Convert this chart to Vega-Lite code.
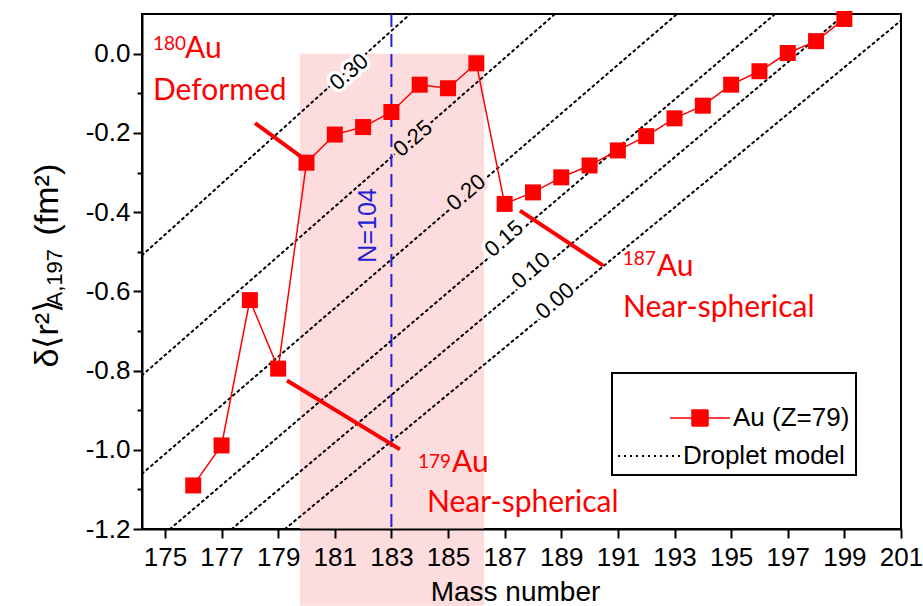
{
  "$schema": "https://vega.github.io/schema/vega-lite/v6.json",
  "width": 759,
  "height": 515,
  "autosize": {"type": "none"},
  "padding": {"left": 142, "top": 14, "right": 22, "bottom": 77},
  "background": "white",
  "config": {
    "view": {"stroke": "black", "strokeWidth": 2},
    "axis": {
      "domainColor": "black", "domainWidth": 2, "tickColor": "black", "tickWidth": 2,
      "labelFont": "Liberation Sans", "labelFontSize": 26, "labelColor": "black",
      "titleFont": "Liberation Sans", "titleFontWeight": "normal", "titleColor": "black",
      "grid": false, "labelOverlap": false, "labelFlush": false
    }
  },
  "datasets": {
    "band": [{"A1": 179.77, "A2": 186.27, "d1": 0.0, "d2": -1.394}],
    "au": [
      {"A": 176, "d": -1.090}, {"A": 177, "d": -0.989}, {"A": 178, "d": -0.622}, {"A": 179, "d": -0.795},
      {"A": 180, "d": -0.275}, {"A": 181, "d": -0.204}, {"A": 182, "d": -0.185}, {"A": 183, "d": -0.147},
      {"A": 184, "d": -0.078}, {"A": 185, "d": -0.087}, {"A": 186, "d": -0.024}, {"A": 187, "d": -0.379},
      {"A": 188, "d": -0.350}, {"A": 189, "d": -0.312}, {"A": 190, "d": -0.282}, {"A": 191, "d": -0.244},
      {"A": 192, "d": -0.208}, {"A": 193, "d": -0.163}, {"A": 194, "d": -0.131}, {"A": 195, "d": -0.078},
      {"A": 196, "d": -0.044}, {"A": 197, "d": 0.002}, {"A": 198, "d": 0.032}, {"A": 199, "d": 0.088}
    ],
    "droplet": [
      {"beta": "0.30", "A": 174.19, "d": -0.509}, {"beta": "0.30", "A": 183.66, "d": 0.1005},
      {"beta": "0.25", "A": 174.19, "d": -0.812}, {"beta": "0.25", "A": 188.78, "d": 0.1005},
      {"beta": "0.20", "A": 174.19, "d": -1.0605}, {"beta": "0.20", "A": 193.09, "d": 0.1005},
      {"beta": "0.15", "A": 175.18, "d": -1.2}, {"beta": "0.15", "A": 196.55, "d": 0.1005},
      {"beta": "0.10", "A": 177.36, "d": -1.2}, {"beta": "0.10", "A": 199.03, "d": 0.1005},
      {"beta": "0.00", "A": 179.24, "d": -1.2}, {"beta": "0.00", "A": 201.0, "d": 0.084}
    ],
    "dlabels": [
      {"beta": "0.30", "A": 181.50, "d": -0.046},
      {"beta": "0.25", "A": 183.76, "d": -0.214},
      {"beta": "0.20", "A": 185.64, "d": -0.350},
      {"beta": "0.15", "A": 186.98, "d": -0.467},
      {"beta": "0.10", "A": 187.93, "d": -0.547},
      {"beta": "0.00", "A": 188.78, "d": -0.624}
    ],
    "nlabel": [{"t": "N=104", "A": 182.17, "d": -0.4335}],
    "pointers": [
      {"A": 178.18, "d": -0.175, "A2": 179.95, "d2": -0.267},
      {"A": 187.54, "d": -0.396, "A2": 190.48, "d2": -0.535},
      {"A": 179.31, "d": -0.825, "A2": 183.30, "d2": -0.999}
    ],
    "notes": [
      {"t": "Au", "A": 175.709, "d": -0.0114, "role": "main"},
      {"t": "Deformed", "A": 174.579, "d": -0.1167, "role": "main"},
      {"t": "Au", "A": 185.140, "d": -1.0560, "role": "main"},
      {"t": "Near-spherical", "A": 184.257, "d": -1.1563, "role": "main"},
      {"t": "Au", "A": 192.371, "d": -0.5611, "role": "main"},
      {"t": "Near-spherical", "A": 191.181, "d": -0.6646, "role": "main"},
      {"t": "180", "A": 174.579, "d": 0.0096, "role": "sup"},
      {"t": "179", "A": 183.939, "d": -1.0459, "role": "sup"},
      {"t": "187", "A": 191.170, "d": -0.5333, "role": "sup"}
    ]
  },
  "resolve": {"axis": {"y": "independent"}},
  "layer": [
    {
      "data": {"name": "band"},
      "mark": {"type": "rect", "color": "#fcdcdc", "clip": false},
      "encoding": {
        "x": {
          "field": "A1", "type": "quantitative",
          "scale": {"domain": [174.19, 201], "nice": false, "zero": false},
          "axis": {
            "zindex": 1,
            "values": [175,176,177,178,179,180,181,182,183,184,185,186,187,188,189,190,191,192,193,194,195,196,197,198,199,200,201],
            "labelExpr": "datum.value % 2 == 1 ? datum.label : ''",
            "tickSize": {"condition": {"test": "datum.value % 2 == 0", "value": 5}, "value": 9},
            "labelPadding": 6, "labelFlush": false,
            "title": "Mass number", "titleFontSize": 28, "titleX": 373, "titleY": 71,
            "titleAlign": "center", "titleBaseline": "alphabetic"
          }
        },
        "x2": {"field": "A2"},
        "y": {
          "field": "d1", "type": "quantitative",
          "scale": {"domain": [-1.2, 0.1005], "nice": false, "zero": false},
          "axis": {
            "zindex": 1,
            "orient": "left",
            "values": [-1.2,-1.1,-1.0,-0.9,-0.8,-0.7,-0.6,-0.5,-0.4,-0.3,-0.2,-0.1,0.0],
            "labelExpr": "abs(round(datum.value*10)) % 2 == 0 ? replace(format(datum.value, '.1f'), '\u2212', '-') : ''",
            "tickSize": {"condition": {"test": "abs(round(datum.value*10)) % 2 == 1", "value": 5}, "value": 9},
            "labelPadding": 3, "labelFlush": false,
            "title": "δ⟨r²⟩", "titleFontSize": 34, "titleAngle": 270,
            "titleX": -85, "titleY": 353, "titleAlign": "left", "titleBaseline": "alphabetic"
          }
        },
        "y2": {"field": "d2"}
      }
    },
    {
      "data": {"name": "droplet"},
      "mark": {"type": "line", "strokeWidth": 2, "strokeDash": [2, 4], "strokeCap": "round"},
      "encoding": {
        "x": {"field": "A", "type": "quantitative"},
        "y": {"field": "d", "type": "quantitative", "axis": null},
        "detail": {"field": "beta"},
        "color": {"datum": "Droplet model", "type": "nominal"}
      }
    },
    {
      "data": {"name": "dlabels"},
      "mark": {"type": "text", "font": "Liberation Sans", "fontSize": 22, "angle": 319, "align": "center", "baseline": "middle", "strokeWidth": 7, "strokeJoin": "round"},
      "encoding": {
        "x": {"field": "A", "type": "quantitative"},
        "y": {"field": "d", "type": "quantitative", "axis": null},
        "text": {"field": "beta"},
        "stroke": {"condition": {"test": "datum.A > 179.77 && datum.A < 186.27 && datum.d < -0.06", "value": "#fcdcdc"}, "value": "white"},
        "fill": {"condition": {"test": "datum.A > 179.77 && datum.A < 186.27 && datum.d < -0.06", "value": "#fcdcdc"}, "value": "white"}
      }
    },
    {
      "data": {"name": "dlabels"},
      "mark": {"type": "text", "font": "Liberation Sans", "fontSize": 22, "angle": 319, "align": "center", "baseline": "middle", "color": "black"},
      "encoding": {
        "x": {"field": "A", "type": "quantitative"},
        "y": {
          "field": "d", "type": "quantitative",
          "axis": {
            "orient": "left", "domain": false, "ticks": false, "labels": false,
            "title": "A,197", "titleFontSize": 22, "titleAngle": 270,
            "titleX": -81, "titleY": 292, "titleAlign": "left", "titleBaseline": "alphabetic"
          }
        },
        "text": {"field": "beta"}
      }
    },
    {
      "data": {"values": [{}]},
      "mark": {"type": "rule", "color": "#2222d4", "strokeWidth": 2, "strokeDash": [13, 7]},
      "encoding": {"x": {"datum": 183}}
    },
    {
      "data": {"name": "nlabel"},
      "mark": {"type": "text", "font": "Liberation Sans", "fontSize": 25, "angle": 270, "align": "center", "baseline": "middle", "color": "#2222d4"},
      "encoding": {
        "x": {"field": "A", "type": "quantitative"},
        "y": {
          "field": "d", "type": "quantitative",
          "axis": {
            "orient": "left", "domain": false, "ticks": false, "labels": false,
            "title": "(fm²)", "titleFontSize": 34, "titleAngle": 270,
            "titleX": -85, "titleY": 221, "titleAlign": "left", "titleBaseline": "alphabetic"
          }
        },
        "text": {"field": "t"}
      }
    },
    {
      "data": {"name": "pointers"},
      "mark": {"type": "rule", "color": "#ff0000", "strokeWidth": 4},
      "encoding": {
        "x": {"field": "A", "type": "quantitative"},
        "y": {"field": "d", "type": "quantitative", "axis": null},
        "x2": {"field": "A2"},
        "y2": {"field": "d2"}
      }
    },
    {
      "data": {"name": "au"},
      "mark": {"type": "line", "strokeWidth": 1.5},
      "encoding": {
        "x": {"field": "A", "type": "quantitative"},
        "y": {"field": "d", "type": "quantitative", "axis": null},
        "color": {
          "datum": "Au (Z=79)", "type": "nominal",
          "scale": {"domain": ["Au (Z=79)", "Droplet model"], "range": ["#ff0000", "#000000"]},
          "legend": {
            "orient": "none", "legendX": 470, "legendY": 359,
            "title": " ", "titleFontSize": 16, "titlePadding": 10,
            "padding": 6, "strokeColor": "black", "fillColor": "white",
            "labelFont": "Liberation Sans", "labelFontSize": 26, "labelColor": "black",
            "labelOffset": 0, "labelLimit": 300, "symbolSize": 400, "rowPadding": 12,
            "symbolOffset": 39,
            "encode": {
              "legend": {"update": {"strokeWidth": {"value": 2}}},
              "symbols": {"update": {
                "shape": {"signal": "datum.value === 'Au (Z=79)' ? 'M0,0H6M2.2,-0.8H3.8V0.8H2.2Z' : 'M-5.2,0H1'"},
                "fill": {"signal": "datum.value === 'Au (Z=79)' ? '#ff0000' : 'transparent'"},
                "stroke": {"signal": "datum.value === 'Au (Z=79)' ? '#ff0000' : '#000000'"},
                "strokeWidth": {"signal": "datum.value === 'Au (Z=79)' ? 1.5 : 2"},
                "strokeDash": {"signal": "datum.value === 'Au (Z=79)' ? [1, 0] : [2, 4]"},
                "opacity": {"value": 1}
              }},
              "labels": {"update": {"dx": {"signal": "datum.value === 'Au (Z=79)' ? 50 : 0"}}}
            }
          }
        }
      }
    },
    {
      "data": {"name": "au"},
      "mark": {"type": "point", "shape": "square", "filled": true, "size": 256, "opacity": 1},
      "encoding": {
        "x": {"field": "A", "type": "quantitative"},
        "y": {"field": "d", "type": "quantitative", "axis": null},
        "color": {"datum": "Au (Z=79)", "type": "nominal"}
      }
    },
    {
      "data": {"name": "notes"},
      "transform": [{"filter": "datum.role === 'main'"}],
      "mark": {"type": "text", "font": "Lato", "fontSize": 30, "align": "left", "baseline": "alphabetic", "color": "#ff0000"},
      "encoding": {
        "x": {"field": "A", "type": "quantitative"},
        "y": {"field": "d", "type": "quantitative", "axis": null},
        "text": {"field": "t"}
      }
    },
    {
      "data": {"name": "notes"},
      "transform": [{"filter": "datum.role === 'sup'"}],
      "mark": {"type": "text", "font": "Lato", "fontSize": 19, "align": "left", "baseline": "alphabetic", "color": "#ff0000"},
      "encoding": {
        "x": {"field": "A", "type": "quantitative"},
        "y": {"field": "d", "type": "quantitative", "axis": null},
        "text": {"field": "t"}
      }
    }
  ]
}
